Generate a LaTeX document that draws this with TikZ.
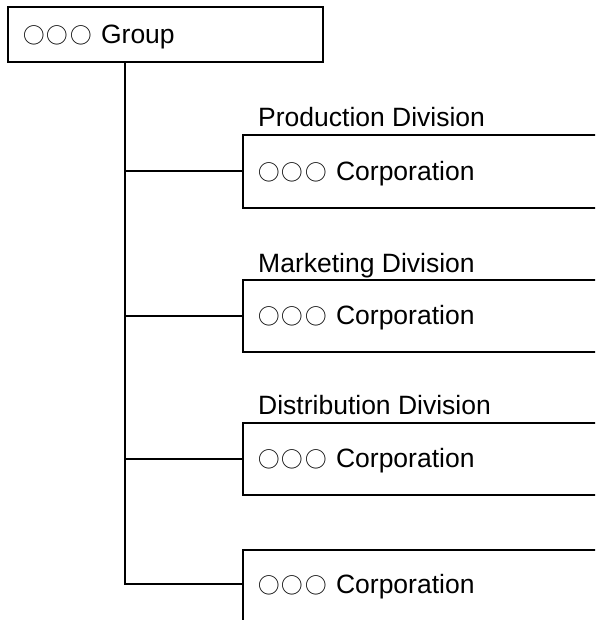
\documentclass[tikz,border=0pt]{standalone}
\usepackage{fontspec}
\setmainfont{Liberation Sans}
\newfontfamily\cjk{Noto Sans CJK JP}
\usetikzlibrary{calc}
\newcommand{\ooo}{{\cjk\fontsize{21.5}{21.5}\selectfont ○\kern2pt○\kern2pt○\kern2pt}}
\begin{document}
\begin{tikzpicture}[x=1pt,y=-1pt,
  box/.style={draw, line width=1.8pt, rectangle, inner sep=0pt, anchor=north west},
  corp/.style={box, minimum width=378pt},
  txt/.style={anchor=base west, inner sep=0pt, font=\fontsize{26.5}{30}\selectfont},
  conn/.style={line width=1.8pt}]
\useasboundingbox (0,0) rectangle (595,620);
\clip (0,0) rectangle (595,620);
% group
\node[box, minimum width=315pt, minimum height=55pt] (g) at (7,6) {};
\node[txt] (gt) at ($(g.west)+(16,9)$) {\ooo\ Group};
\coordinate (tx) at (125,0);
% corporations
\node[corp, minimum height=73pt] (c1) at (242,134) {};
\node[corp, minimum height=72pt] (c2) at (242,279) {};
\node[corp, minimum height=72pt] (c3) at (242,422) {};
\node[corp, minimum height=80pt] (c4) at (242,549) {};
\coordinate (b4) at ($(c4.north west)+(0,35)$);
% labels
\node[txt] (l1) at ($(c1.north west)+(16,-7)$) {Production Division};
\node[txt] (l2) at ($(c2.north west)+(16,-7)$) {Marketing Division};
\node[txt] (l3) at ($(c3.north west)+(16,-8)$) {Distribution Division};
% texts
\node[txt] (t1) at ($(c1.west)+(16,9)$) {\ooo\ Corporation};
\node[txt] (t2) at ($(c2.west)+(16,9)$) {\ooo\ Corporation};
\node[txt] (t3) at ($(c3.west)+(16,9)$) {\ooo\ Corporation};
\node[txt] (t4) at ($(b4)+(16,9)$) {\ooo\ Corporation};
% connectors
\draw[conn] (g.south -| tx) -- (b4 -| tx) -- (b4);
\draw[conn] (c1.west -| tx) -- (c1.west);
\draw[conn] (c2.west -| tx) -- (c2.west);
\draw[conn] (c3.west -| tx) -- (c3.west);
\end{tikzpicture}
\end{document}
